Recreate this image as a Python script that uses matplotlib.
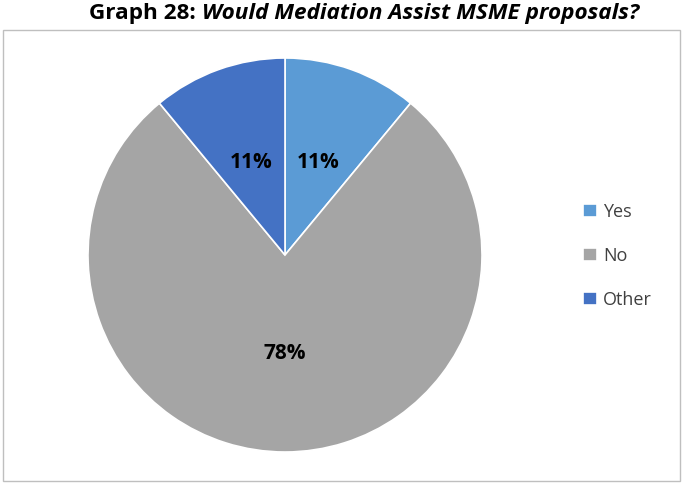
import matplotlib.pyplot as plt
from matplotlib.patches import Rectangle

plt.rcParams['font.family'] = ['Open Sans', 'DejaVu Sans']

labels = ["Yes", "No", "Other"]
shares = [11, 78, 11]
colors = ["#5B9BD5", "#A5A5A5", "#4472C4"]

W, H = 683, 483
fig = plt.figure(figsize=(W / 100, H / 100), dpi=100)

# grey chart-area border
fig.add_artist(Rectangle((3 / W, 2 / H), 677 / W, (481 - 30) / H, transform=fig.transFigure,
                         fill=False, edgecolor="#BFBFBF", linewidth=1.0))

# title: plain bold prefix followed by a bold italic question, centred as one line
t1 = fig.text(0, 1 - 14 / H, "Graph 28: ", fontsize=16.2, fontweight="bold",
              va="center", ha="left")
t2 = fig.text(0, 1 - 14 / H, "Would Mediation Assist MSME proposals?", fontsize=16.2,
              fontweight="bold", fontstyle="italic", va="center", ha="left")
fig.canvas.draw()
w1 = t1.get_window_extent().width
w2 = t2.get_window_extent().width
x0 = 364 - (w1 + w2) / 2
t1.set_x(x0 / W)
t2.set_x((x0 + w1) / W)

cx, cy, r = 285, 255, 197
ax = fig.add_axes([(cx - r) / W, (H - cy - r) / H, 2 * r / W, 2 * r / H])
wedges, texts, autotexts = ax.pie(shares, colors=colors, startangle=90, counterclock=False,
                                  autopct=lambda p: f"{p:.0f}%", pctdistance=0.5,
                                  wedgeprops=dict(edgecolor="white", linewidth=1.2),
                                  textprops=dict(fontsize=15, fontweight="bold", color="black"))
ax.set_xlim(-1, 1)
ax.set_ylim(-1, 1)

ax.legend(wedges, labels, loc="center left", bbox_to_anchor=(567 / W, 1 - 256 / H),
          bbox_transform=fig.transFigure, frameon=False, fontsize=13,
          labelcolor="#404040", handlelength=0.75, handleheight=0.75, handletextpad=0.35,
          labelspacing=1.45)

fig.savefig("out.png", dpi=100)
